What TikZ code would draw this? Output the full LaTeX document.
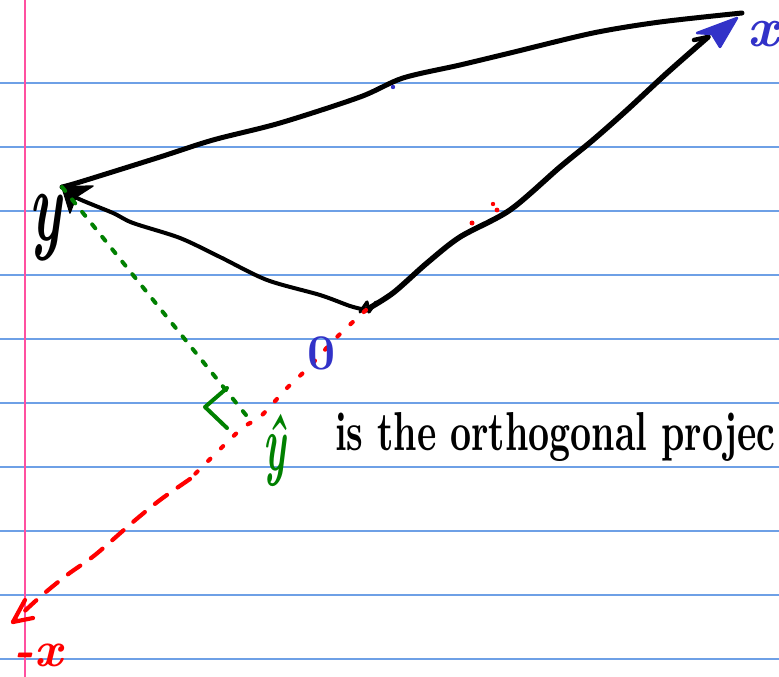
\documentclass[tikz,border=0pt]{standalone}
\usepackage{fontspec}
\usepackage{graphicx}
\definecolor{ruleblue}{RGB}{110,160,230}
\definecolor{marginpink}{RGB}{255,80,160}
\definecolor{penblue}{RGB}{50,50,200}
\definecolor{penred}{RGB}{255,0,0}
\definecolor{pengreen}{RGB}{0,128,0}
\begin{document}
\begin{tikzpicture}[x=1pt,y=-1pt,
  rule/.style={draw=ruleblue, line width=1.1pt},
  margin/.style={draw=marginpink, line width=1.6pt},
  pen/.style={draw=black, line width=4.5pt, line cap=round, line join=round},
  redpen/.style={draw=penred, line width=4.2pt, line cap=round, line join=round},
  greenpen/.style={draw=pengreen, line width=4pt, line cap=round, line join=round},
  lab/.style={inner sep=0pt, outer sep=0pt}]
\useasboundingbox (0,0) rectangle (779,677);
\fill[white] (0,0) rectangle (779,677);
% ruled paper
\foreach \yy in {83,147,211,275,339,403,467,531,595,659}
  \draw[rule] (0,\yy) -- (779,\yy);
\draw[margin] (25,0) -- (25,677);
% key points
\coordinate (O) at (366,310);
\coordinate (X) at (708,37);
\coordinate (Xtip) at (737,18);
\coordinate (Xtop) at (742,13);
\coordinate (Y) at (62,187);
\coordinate (Yfoot) at (250,420);
\coordinate (R) at (190,479);
\coordinate (M) at (13,622);
% top line from y to x
\draw[pen, line width=5pt] plot[smooth] coordinates {(Y) (80,182) (160,157) (213,140) (280,123) (360,97) (403,78) (460,65) (510,53) (593,33) (660,22) (Xtop)};
% vector y
\draw[pen, line width=4pt] plot[smooth] coordinates {(O) (350,306) (320,295) (267,280) (220,257) (180,238) (133,223) (113,213) (77,198) (Y)};
\draw[pen, line width=3.2pt] (360,312) -- (367,302) -- (369,312) -- (376,302);
\fill[black, draw=black, line width=1.5pt, line join=round] (Y) -- (93,186) -- (76,197) -- (70,213) -- cycle;
% vector x
\draw[pen, line width=5.5pt] plot[smooth] coordinates {(O) (393,293) (427,263) (460,237) (510,210) (560,167) (593,140) (627,110) (667,73) (X)};
\draw[pen, line width=4.5pt] (X) -- (694,40);
\fill[penblue, draw=penblue, line width=2.5pt, line join=round] (Xtip) -- (697,33) -- (712,34) -- (720,47) -- cycle;
% -x direction
\draw[redpen, dash pattern=on 3pt off 15pt] plot[smooth] coordinates {(O) (338,336) (308,368) (287,388) (260,417) (240,430) (R)};
\draw[redpen, dash pattern=on 15pt off 13pt] plot[smooth] coordinates {(R) (160,500) (133,522) (95,555) (67,575) (40,597) (M)};
\draw[redpen] (25,600) -- (M) -- (33,618);
% projection of y
\draw[greenpen, dash pattern=on 5pt off 11pt] (Y) -- (Yfoot);
\draw[greenpen] (227,388) -- (205,407) -- (227,428);
% stray dots
\fill[penblue] (393,87) circle (2.2);
\fill[penred] (493,204) circle (2.2) (497,210) circle (2.4) (472,223) circle (2.5);
% labels
\node[lab, text=black, font=\fontsize{57}{57}\selectfont\bfseries\itshape] (ylab) at (46,228) {\scalebox{1}[1.8]{y}};
\node[lab, text=penblue, font=\fontsize{56}{56}\selectfont\bfseries\itshape] (xlab) at (763,34) {x};
\node[lab, text=penblue, font=\fontsize{50}{50}\selectfont\bfseries] (zero) at (322,353) {0};
\node[lab, text=pengreen, font=\fontsize{40}{40}\selectfont\bfseries\itshape] (yhat) at (275,450) {\scalebox{1}[2]{ŷ}};
\node[lab, text=penred, font=\fontsize{50}{50}\selectfont\bfseries\itshape] (mx) at (38,655) {-x};
\node[lab, anchor=base west, font=\bfseries] (txt) at (335,450) {\resizebox{440pt}{38pt}{is the orthogonal projec}};
\end{tikzpicture}
\end{document}
